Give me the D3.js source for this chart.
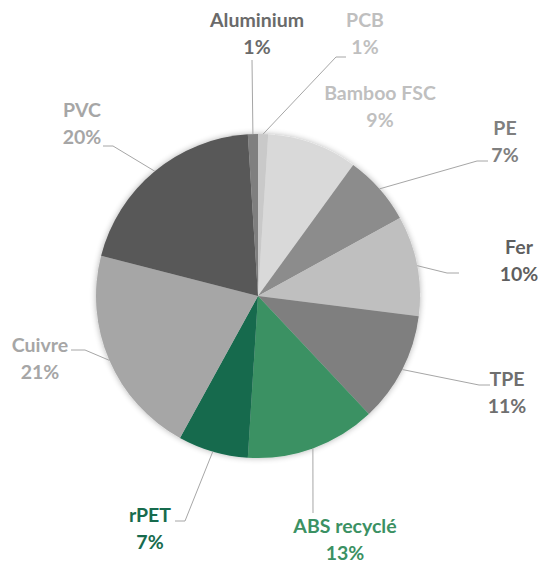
<!DOCTYPE html>
<html>
<head>
<meta charset="utf-8">
<script src="https://cdn.jsdelivr.net/npm/d3@7"></script>
<style>
  html, body { margin: 0; padding: 0; background: #fff; }
  svg text { font-family: Lato, "Open Sans", sans-serif; font-weight: bold; font-size: 19.5px; }
</style>
</head>
<body>
<svg id="chart" width="541" height="567"></svg>
<script>
// Material share, clockwise from 12 o'clock
const materials = ["PCB", "Bamboo FSC", "PE", "Fer", "TPE", "ABS recyclé", "rPET", "Cuivre", "PVC", "Aluminium"];
const shares = [1, 9, 7, 10, 11, 13, 7, 21, 20, 1];
const sliceColors = ["#c9c9c9", "#d9d9d9", "#8c8c8c", "#bfbfbf", "#7f7f7f", "#3b9163", "#176b4e", "#a6a6a6", "#595959", "#7f7f7f"];
const labelColors = ["#bfbfbf", "#bfbfbf", "#7f7f7f", "#5f5f5f", "#6f6f6f", "#3b9163", "#176b4e", "#a6a6a6", "#a6a6a6", "#6a6a6a"];

// label layout: text centre x, name baseline y, leader bend and end points
const labelLayout = [
  { x: 365, y: 27, elbow: [346, 57], end: [336, 57] },
  { x: 380, y: 100, elbow: null, end: null },
  { x: 505, y: 135, elbow: [488, 161], end: [477, 161] },
  { x: 519, y: 254, elbow: [459, 273], end: [447, 273] },
  { x: 507, y: 386, elbow: [490, 385], end: [479, 385] },
  { x: 345, y: 533, elbow: [313, 513], end: null },
  { x: 150, y: 522, elbow: [175, 521], end: [185, 521] },
  { x: 40, y: 352, elbow: [71, 350], end: [85, 350] },
  { x: 82, y: 117, elbow: [103, 146], end: [113, 146] },
  { x: 257, y: 27, elbow: [252, 60], end: null }
];

const svg = d3.select("#chart");
const cx = 258, cy = 296, r = 162;

const defs = svg.append("defs");
const shadow = defs.append("filter").attr("id", "soft")
  .attr("x", "-10%").attr("y", "-10%").attr("width", "120%").attr("height", "120%");
shadow.append("feGaussianBlur").attr("in", "SourceAlpha").attr("stdDeviation", 3).attr("result", "b");
shadow.append("feComponentTransfer").attr("in", "b").attr("result", "s")
  .append("feFuncA").attr("type", "linear").attr("slope", 0.3);
const merge = shadow.append("feMerge");
merge.append("feMergeNode").attr("in", "s");
merge.append("feMergeNode").attr("in", "SourceGraphic");

const rows = materials.map((m, i) => ({ name: m, value: shares[i], i }));
const pie = d3.pie().value(d => d.value).sort(null);
const arcs = pie(rows);
const arc = d3.arc().innerRadius(0).outerRadius(r);

const g = svg.append("g").attr("transform", `translate(${cx},${cy})`);
g.append("g").attr("filter", "url(#soft)")
  .selectAll("path")
  .data(arcs)
  .join("path")
  .attr("d", arc)
  .attr("fill", d => sliceColors[d.data.i]);

// leader lines from mid-angle on the rim
const leaders = svg.append("g").attr("fill", "none").attr("stroke", "#a6a6a6").attr("stroke-width", 1);
arcs.forEach(d => {
  const L = labelLayout[d.data.i];
  if (!L.elbow) return;
  const a = (d.startAngle + d.endAngle) / 2;
  const p0 = [cx + r * Math.sin(a), cy - r * Math.cos(a)];
  const pts = [p0, L.elbow];
  if (L.end) pts.splice(1, 0, L.end);
  leaders.append("path").attr("d", d3.line()(pts));
});

const labels = svg.append("g").attr("text-anchor", "middle");
arcs.forEach(d => {
  const L = labelLayout[d.data.i];
  const t = labels.append("text").attr("fill", labelColors[d.data.i]);
  t.append("tspan").attr("x", L.x).attr("y", L.y).text(d.data.name);
  t.append("tspan").attr("x", L.x).attr("y", L.y + 27).text(d.data.value + "%");
});
</script>
</body>
</html>
